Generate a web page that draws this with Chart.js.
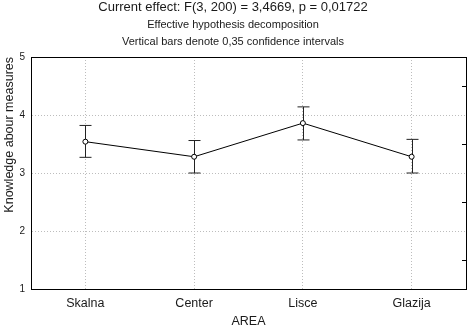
<!DOCTYPE html>
<html>
<head>
<meta charset="utf-8">
<script src="https://cdn.jsdelivr.net/npm/chart.js@4.4.0/dist/chart.umd.min.js"></script>
<style>
  html, body { margin: 0; padding: 0; background: #fff; }
  #wrap { width: 471px; height: 332px; }
</style>
</head>
<body>
<div id="wrap"><canvas id="chart"></canvas></div>
<script>
// --- Dados ---
const areas = ['Skalna', 'Center', 'Lisce', 'Glazija'];
const means = [3.54, 3.28, 3.86, 3.28];
const lowerCI = [3.27, 3.00, 3.57, 3.00];
const upperCI = [3.82, 3.56, 4.14, 3.58];
const yTicks = [1, 2, 3, 4, 5];

const titleText = 'Current effect: F(3, 200) = 3,4669, p = 0,01722';
const subtitleLines = ['Effective hypothesis decomposition', 'Vertical bars denote 0,35 confidence intervals'];

const FONT = "'Liberation Sans', Arial, sans-serif";
const TEXT = '#1a1a1a';

// Barras de erro + moldura do gráfico
const errorBarsPlugin = {
    id: 'errorBars',
    beforeDatasetsDraw(chart) {
        const { ctx, scales: { x, y } } = chart;
        ctx.save();
        ctx.strokeStyle = '#222';
        ctx.lineWidth = 1;
        areas.forEach((a, i) => {
            const px = Math.round(x.getPixelForValue(i)) + 0.5;
            const top = y.getPixelForValue(upperCI[i]);
            const bot = y.getPixelForValue(lowerCI[i]);
            ctx.beginPath();
            ctx.moveTo(px, top); ctx.lineTo(px, bot);
            ctx.moveTo(px - 6, top); ctx.lineTo(px + 6, top);
            ctx.moveTo(px - 6, bot); ctx.lineTo(px + 6, bot);
            ctx.stroke();
        });
        ctx.restore();
    },
    afterDraw(chart) {
        const { ctx, chartArea: ca, scales: { y } } = chart;
        ctx.save();
        ctx.strokeStyle = '#000';
        ctx.lineWidth = 1;
        ctx.setLineDash([]);
        ctx.strokeRect(Math.round(ca.left) + 0.5, Math.round(ca.top) + 0.5,
            Math.round(ca.right - ca.left), Math.round(ca.bottom - ca.top));
        // marcas menores no eixo da direita
        ctx.beginPath();
        for (let i = 0; i < yTicks.length - 1; i++) {
            const py = Math.round(y.getPixelForValue((yTicks[i] + yTicks[i + 1]) / 2)) + 0.5;
            ctx.moveTo(ca.right, py); ctx.lineTo(ca.right - 4, py);
        }
        ctx.stroke();
        ctx.restore();
    }
};

new Chart(document.getElementById('chart'), {
    type: 'line',
    data: {
        labels: areas,
        datasets: [{
            data: means,
            borderColor: '#000',
            borderWidth: 1,
            tension: 0,
            pointRadius: 2.5,
            pointBackgroundColor: '#fff',
            pointBorderColor: '#000',
            pointBorderWidth: 1
        }]
    },
    options: {
        responsive: true,
        maintainAspectRatio: false,
        animation: false,
        layout: { padding: { left: 0, right: 5, top: 0, bottom: 0 } },
        plugins: {
            legend: { display: false },
            tooltip: { enabled: false },
            title: {
                display: true,
                text: titleText,
                color: TEXT,
                font: { family: FONT, size: 13, weight: 'normal', lineHeight: 1.0 },
                padding: { top: 1, bottom: 2 }
            },
            subtitle: {
                display: true,
                text: subtitleLines,
                color: TEXT,
                font: { family: FONT, size: 11, weight: 'normal', lineHeight: 1.55 },
                padding: { top: 0, bottom: 6.9 }
            }
        },
        scales: {
            x: {
                offset: true,
                afterFit: s => { s.height = 43; },
                grid: { color: '#bdbdbd', drawTicks: false, offset: false },
                border: { color: '#000', dash: [1, 2] },
                ticks: { color: TEXT, padding: 7, font: { family: FONT, size: 12.5 } },
                title: {
                    display: true, text: 'AREA', color: TEXT,
                    font: { family: FONT, size: 12.5 }, padding: { top: 0, bottom: 3 }
                }
            },
            y: {
                min: 1,
                max: 5,
                afterFit: s => { s.width = 31; },
                afterBuildTicks: s => { s.ticks = yTicks.map(v => ({ value: v })); },
                grid: { color: '#bdbdbd', drawTicks: false },
                border: { color: '#000', dash: [1, 2] },
                ticks: { color: TEXT, padding: 6, font: { family: FONT, size: 10 } },
                title: {
                    display: true, text: 'Knowledge abour measures', color: TEXT, align: 'end',
                    font: { family: FONT, size: 12.5 }, padding: { top: 2, bottom: 0 }
                }
            }
        }
    },
    plugins: [errorBarsPlugin]
});
</script>
</body>
</html>
